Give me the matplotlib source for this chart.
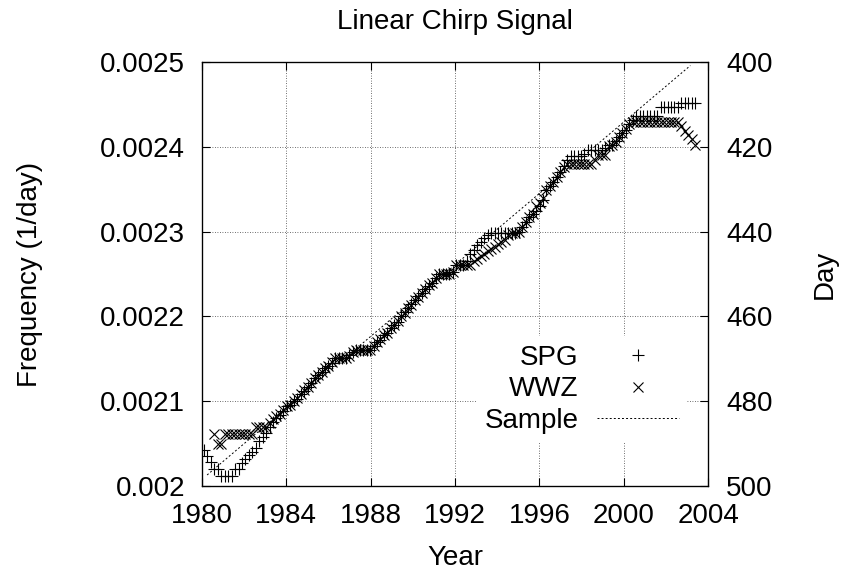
import numpy as np
import matplotlib
matplotlib.use('Agg')
from matplotlib import pyplot as plt
from matplotlib.ticker import FuncFormatter

plt.rcParams['font.family'] = ['Liberation Sans', 'DejaVu Sans']
plt.rcParams['font.size'] = 20

# sampling times (years), ~60 day step
years = [1980.10, 1980.26, 1980.43, 1980.59, 1980.76, 1980.92, 1981.08, 1981.25, 1981.41, 1981.58,
         1981.74, 1981.90, 1982.07, 1982.23, 1982.40, 1982.56, 1982.72, 1982.89, 1983.05, 1983.22,
         1983.38, 1983.54, 1983.71, 1983.87, 1984.04, 1984.20, 1984.36, 1984.53, 1984.69, 1984.86,
         1985.02, 1985.18, 1985.35, 1985.51, 1985.68, 1985.84, 1986.00, 1986.17, 1986.33, 1986.50,
         1986.66, 1986.82, 1986.99, 1987.15, 1987.32, 1987.48, 1987.64, 1987.81, 1987.97, 1988.14,
         1988.30, 1988.46, 1988.63, 1988.79, 1988.96, 1989.12, 1989.28, 1989.45, 1989.61, 1989.78,
         1989.94, 1990.10, 1990.27, 1990.43, 1990.60, 1990.76, 1990.92, 1991.09, 1991.25, 1991.42,
         1991.58, 1991.74, 1991.91, 1992.07, 1992.24, 1992.40, 1992.56, 1992.73, 1992.89, 1993.06,
         1993.22, 1993.38, 1993.55, 1993.71, 1993.88, 1994.04, 1994.20, 1994.37, 1994.53, 1994.70,
         1994.86, 1995.02, 1995.19, 1995.35, 1995.52, 1995.68, 1995.84, 1996.01, 1996.17, 1996.34,
         1996.50, 1996.66, 1996.83, 1996.99, 1997.16, 1997.32, 1997.48, 1997.65, 1997.81, 1997.98,
         1998.14, 1998.30, 1998.47, 1998.63, 1998.80, 1998.96, 1999.12, 1999.29, 1999.45, 1999.62,
         1999.78, 1999.94, 2000.11, 2000.27, 2000.44, 2000.60, 2000.76, 2000.93, 2001.09, 2001.26,
         2001.42, 2001.58, 2001.75, 2001.91, 2002.08, 2002.24, 2002.40, 2002.57, 2002.73, 2002.90,
         2003.06, 2003.22, 2003.39]

# frequencies in units of 1e-6 1/day
spg_freq = [2043, 2035, 2028, 2020, 2020, 2012, 2012, 2012, 2012, 2020,
            2020, 2027, 2032, 2036, 2040, 2045, 2053, 2058, 2063, 2070,
            2075, 2080, 2084, 2089, 2094, 2096, 2100, 2103, 2109, 2112,
            2117, 2121, 2127, 2131, 2134, 2139, 2141, 2145, 2151, 2151,
            2151, 2151, 2155, 2158, 2160, 2160, 2160, 2160, 2160, 2165,
            2170, 2172, 2178, 2181, 2186, 2190, 2194, 2200, 2205, 2210,
            2215, 2219, 2224, 2228, 2232, 2236, 2240, 2245, 2250, 2250,
            2250, 2250, 2252, 2261, 2261, 2261, 2266, 2274, 2279, 2284,
            2288, 2292, 2296, 2299, 2299, 2299, 2299, 2299, 2299, 2299,
            2299, 2300, 2306, 2311, 2317, 2321, 2325, 2330, 2337, 2349,
            2354, 2359, 2365, 2371, 2378, 2385, 2389, 2389, 2389, 2389,
            2392, 2396, 2396, 2396, 2396, 2396, 2399, 2402, 2402, 2407,
            2412, 2416, 2420, 2427, 2432, 2437, 2437, 2437, 2437, 2437,
            2437, 2437, 2447, 2447, 2447, 2447, 2447, 2447, 2452, 2452,
            2452, 2452, 2452]

wwz_freq = [np.nan, np.nan, np.nan, 2061, 2050, 2050, 2061, 2061, 2061, 2061,
            2061, 2061, 2061, 2061, 2061, 2070, 2070, 2070, 2070, 2074,
            2079, 2082, 2085, 2090, 2094, 2096, 2100, 2104, 2109, 2113,
            2117, 2121, 2127, 2131, 2135, 2139, 2141, 2146, 2151, 2151,
            2151, 2151, 2153, 2158, 2160, 2160, 2160, 2160, 2160, 2165,
            2170, 2173, 2178, 2181, 2186, 2190, 2195, 2200, 2204, 2210,
            2214, 2219, 2223, 2228, 2232, 2237, 2240, 2245, 2250, 2250,
            2250, 2250, 2253, 2261, 2261, 2261, 2261, 2261, 2265, 2268,
            2271, 2274, 2277, 2280, 2282, 2285, 2288, 2290, 2296, 2299,
            2299, 2300, 2305, 2311, 2317, 2321, 2330, 2334, 2340, 2349,
            2354, 2359, 2365, 2371, 2376, 2380, 2380, 2380, 2380, 2380,
            2380, 2380, 2380, 2385, 2390, 2390, 2391, 2401, 2402, 2406,
            2412, 2416, 2421, 2427, 2430, 2430, 2430, 2430, 2430, 2430,
            2430, 2430, 2430, 2430, 2430, 2430, 2430, 2430, 2425, 2419,
            2414, 2409, 2402]

sample_years = [1980.25, 2003.16]
sample_freq = [2013, 2496]

x_ticks = [1980, 1984, 1988, 1992, 1996, 2000, 2004]
y_ticks = [0.002, 0.0021, 0.0022, 0.0023, 0.0024, 0.0025]
day_ticks = [400, 420, 440, 460, 480, 500]

fig = plt.figure(figsize=(8.48, 5.81), dpi=100)
ax = fig.add_axes([0.238, 0.1635, 0.597, 0.7295])

ax.plot(years, np.array(spg_freq) * 1e-6, linestyle='none', marker='+',
        color='black', ms=8, mew=0.8, label='SPG')
ax.plot(years, np.array(wwz_freq) * 1e-6, linestyle='none', marker='x',
        color='black', ms=6.5, mew=0.8, label='WWZ')
ax.plot(sample_years, np.array(sample_freq) * 1e-6, linestyle=(0, (2, 2.2)),
        color='black', lw=0.7, label='Sample')

ax.set_xlim(1980, 2004)
ax.set_ylim(0.002, 0.0025)
ax.set_xticks(x_ticks)
ax.set_yticks(y_ticks)
ax.yaxis.set_major_formatter(FuncFormatter(lambda v, p: '%g' % v))
ax.grid(True, linestyle=(0, (1, 2)), color='0.25', lw=0.6)
ax.tick_params(axis='x', direction='in', length=6, width=0.8, top=True, pad=12)
ax.tick_params(axis='y', direction='in', length=6, width=0.8, pad=12)
for s in ax.spines.values():
    s.set_linewidth(0.9)

ax2 = ax.twinx()
ax2.set_ylim(500, 400)
ax2.set_yticks(day_ticks)
ax2.tick_params(axis='y', direction='in', length=6, width=0.8, pad=13)

leg = ax.legend(loc='center', bbox_to_anchor=(0.75, 0.228), markerfirst=False,
                frameon=True, framealpha=1, edgecolor='none', facecolor='white',
                handlelength=2.95, handletextpad=0.65, labelspacing=0.2,
                borderpad=0.3, fancybox=False)

fig.text(0.537, 1 - 22 / 581, 'Linear Chirp Signal', ha='center', va='center')
fig.text(0.537, 1 - 558 / 581, 'Year', ha='center', va='center')
fig.text(0.035, 0.528, 'Frequency (1/day)', ha='center', va='center', rotation=90)
fig.text(0.973, 0.528, 'Day', ha='center', va='center', rotation=90)

fig.savefig('out.png', dpi=100)
